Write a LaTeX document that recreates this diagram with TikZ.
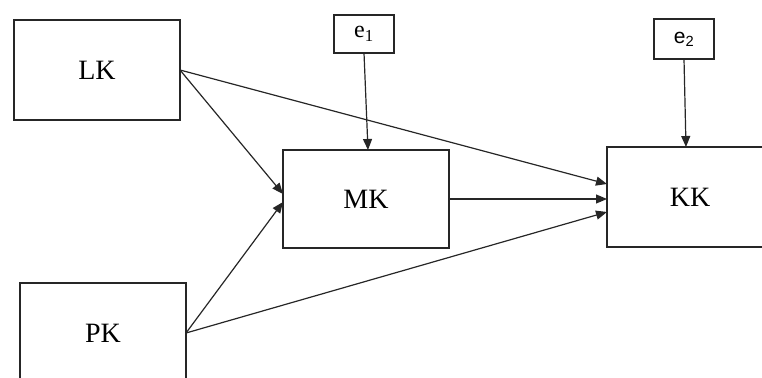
\documentclass[tikz,border=0pt]{standalone}
\usepackage{fontspec}
\setmainfont{Liberation Serif}
\newfontfamily\errfont{Liberation Sans}
\usetikzlibrary{arrows.meta,calc}

\tikzset{
  varbox/.style={draw=black!85, line width=1.3pt, rectangle, inner sep=0pt, outer sep=0pt,
    minimum width=166pt, minimum height=100pt, font=\fontsize{28}{32}\selectfont},
  errbox/.style={draw=black!85, line width=1.3pt, rectangle, inner sep=0pt, outer sep=0pt,
    minimum width=60pt, minimum height=39pt, font=\fontsize{24}{27}\selectfont},
  path/.style={draw=black!85, line width=1.2pt, -{Triangle[length=11pt,width=9pt]}}
}

\begin{document}
\begin{tikzpicture}[x=1pt,y=-1pt]
  \useasboundingbox (0,0) rectangle (762,377);
  \clip (0,0) rectangle (762,377);

  % latent variables
  \node[varbox] (LK) at (97,70) {LK};
  \node[varbox] (PK) at (103,333) {PK};
  \node[varbox, minimum height=98pt] (MK) at (366,199) {MK};
  \node[varbox] (KK) at (690,197) {KK};

  % error terms
  \node[errbox, minimum height=38pt] (e1) at (364,34) {e\textsubscript{1}};
  \node[errbox, minimum height=40pt, font=\errfont\fontsize{21}{24}\selectfont] (e2) at (684,39) {e\textsubscript{2}};

  % structural paths
  \draw[path] (LK.east) -- ([yshift=5pt]MK.west);
  \draw[path] (PK.east) -- ([yshift=-3pt]MK.west);
  \draw[path] (LK.east) -- ([yshift=13pt]KK.west);
  \draw[path] (MK.east) -- (MK.east -| KK.west);
  \draw[path] (PK.east) -- ([yshift=-15pt]KK.west);

  % error paths
  \draw[path] (e1.south) -- ([xshift=2pt]MK.north);
  \draw[path] (e2.south) -- ([xshift=-4pt]KK.north);
\end{tikzpicture}
\end{document}
